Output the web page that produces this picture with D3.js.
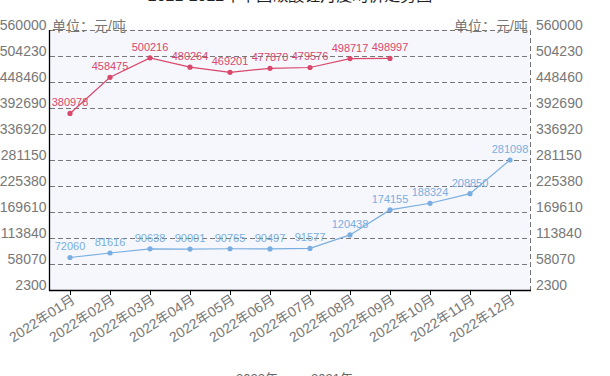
<!DOCTYPE html>
<html><head><meta charset="utf-8">
<script src="https://cdn.jsdelivr.net/npm/d3@7/dist/d3.min.js"></script>
<style>body{margin:0;background:#fff}svg{display:block}text{font-family:"Liberation Sans","Noto Sans CJK SC",sans-serif}</style>
</head><body><svg id="c" width="610" height="376"></svg>
<script>
const months = ["2022年01月","2022年02月","2022年03月","2022年04月","2022年05月","2022年06月","2022年07月","2022年08月","2022年09月","2022年10月","2022年11月","2022年12月"];
const seriesNames = ["2022年","2021年"];
const values2022 = [380978,458475,500216,480264,469201,477870,479576,498717,498997,null,null,null];
const values2021 = [72060,81616,90638,90001,90765,90497,91577,120438,174155,188324,208850,281098];
const yTicks = [2300,58070,113840,169610,225380,281150,336920,392690,448460,504230,560000];
const colors = ["#d9476b","#7aaee0"];
const title = "2021-2022年中国碳酸锂月度均价走势图";
const unitLabel = "单位：元/吨";

const svg = d3.select("#c");
const L=50,R=530,T=30,B=290;
const x = d3.scaleBand().domain(months).range([L,R]);
const y = d3.scaleLinear().domain([2300,560000]).range([B,T]);
const cx = d => x(d)+x.bandwidth()/2;

svg.append("text").attr("x",290).attr("y",0.5).attr("text-anchor","middle").attr("font-size",16).attr("fill","#222").text(title);

svg.append("rect").attr("x",L).attr("y",T).attr("width",R-L).attr("height",B-T).attr("fill","#f5f7fd");
svg.append("g").selectAll("line").data(yTicks.slice(1)).join("line")
  .attr("x1",L).attr("x2",R).attr("y1",d=>y(d)+0.5).attr("y2",d=>y(d)+0.5)
  .attr("stroke","#777").attr("stroke-dasharray","5,3");
svg.append("line").attr("x1",R+0.5).attr("x2",R+0.5).attr("y1",T).attr("y2",B).attr("stroke","#777").attr("stroke-dasharray","5,3");
svg.append("line").attr("x1",L-0.5).attr("x2",L-0.5).attr("y1",T).attr("y2",B+1).attr("stroke","#000").attr("stroke-width",1.3);
svg.append("line").attr("x1",L-1).attr("x2",R+1).attr("y1",B+0.5).attr("y2",B+0.5).attr("stroke","#000").attr("stroke-width",1.3);

const lab = svg.append("g").attr("font-size",14);
lab.selectAll(".l").data(yTicks).join("text").attr("x",L-3.5).attr("y",d=>y(d)-5).attr("dy","0.35em").attr("text-anchor","end").attr("fill","#777").text(d=>d);
lab.selectAll(".r").data(yTicks).join("text").attr("x",R+6).attr("y",d=>y(d)-5).attr("dy","0.35em").attr("fill","#777").text(d=>d);
svg.append("text").attr("x",L+2).attr("y",T+1).attr("font-size",14).attr("fill","#777").text(unitLabel);
svg.append("text").attr("x",R-2).attr("y",T+1).attr("text-anchor","end").attr("font-size",14).attr("fill","#777").text(unitLabel);

svg.append("g").selectAll("line").data(months).join("line")
  .attr("x1",d=>cx(d)+0.5).attr("x2",d=>cx(d)+0.5).attr("y1",B+1).attr("y2",B+5).attr("stroke","#000");
svg.append("g").selectAll("text").data(months).join("text")
  .attr("transform",d=>`translate(${cx(d)+6},${B+12}) rotate(-33)`)
  .attr("text-anchor","end").attr("font-size",14).attr("fill","#777").text(d=>d);

[values2022, values2021].forEach((vals,i)=>{
  const pts = months.map((m,j)=>({m,v:vals[j]})).filter(p=>p.v!=null);
  const g = svg.append("g");
  g.append("path").datum(pts).attr("fill","none").attr("stroke",colors[i]).attr("stroke-width",1.2)
    .attr("d",d3.line().x(p=>cx(p.m)).y(p=>y(p.v)));
  g.selectAll("circle").data(pts).join("circle").attr("cx",p=>cx(p.m)).attr("cy",p=>y(p.v)).attr("r",2.6).attr("fill",colors[i]);
  g.selectAll("text").data(pts).join("text").attr("x",p=>cx(p.m)).attr("y",p=>y(p.v)-7)
    .attr("text-anchor","middle").attr("font-size",11).attr("fill",colors[i]).text(p=>p.v);
});

const leg = svg.append("g");
seriesNames.forEach((n,i)=>{
  const lx = 212 + i*75;
  leg.append("line").attr("x1",lx).attr("x2",lx+20).attr("y1",377).attr("y2",377).attr("stroke",colors[i]).attr("stroke-width",2);
  leg.append("text").attr("x",lx+24).attr("y",382.5).attr("font-size",13).attr("fill","#666").text(n);
});
</script></body></html>
